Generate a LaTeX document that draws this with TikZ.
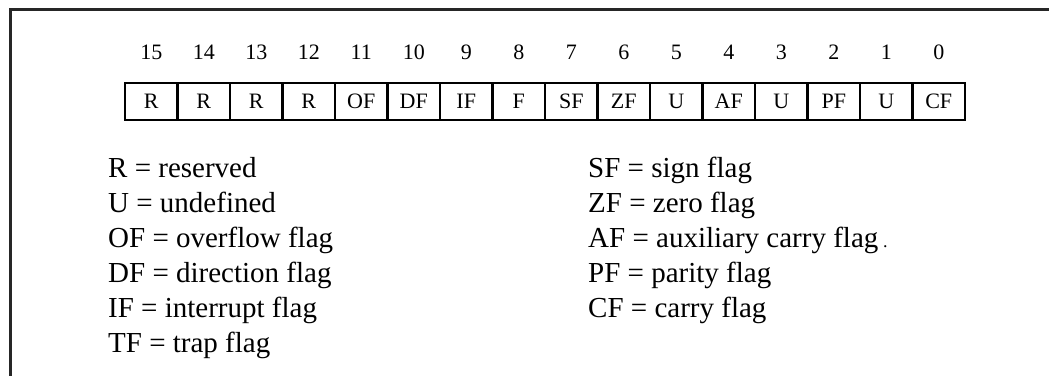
\documentclass[tikz,border=0pt]{standalone}
\usepackage{fontspec}
\setmainfont{Liberation Serif}
\begin{document}
\begin{tikzpicture}[x=1pt,y=-1pt,
  bitcell/.style={draw,line width=2.5pt,minimum width=52.5pt,minimum height=37pt,
    inner sep=0pt,outer sep=0pt,font=\fontsize{22}{22}\selectfont},
  bitnum/.style={font=\fontsize{22}{22}\selectfont},
  key/.style={anchor=base west,inner sep=0pt,font=\fontsize{29}{29}\selectfont}]

\useasboundingbox (0,0) rectangle (1049,376);

% Frame (only top and left edges show)
\draw[line width=3pt,black!85] (1049,9) -- (10,9) -- (10,376);

% Flag register cells with bit numbers above
\foreach \lbl [count=\i from 0] in {R,R,R,R,OF,DF,IF,F,SF,ZF,U,AF,U,PF,U,CF} {
  \pgfmathtruncatemacro\bit{15-\i}
  \node[bitcell] (c\bit) at (151.25+52.5*\i,101.5) {\lbl};
  \node[bitnum] (n\bit) at (151.25+52.5*\i,52) {\bit};
}

% Legend, left column
\node[key] (kR) at (108,177) {R = reserved};
\node[key] (kU) at (108,212) {U = undefined};
\node[key] (kOF) at (108,247) {OF = overflow flag};
\node[key] (kDF) at (108,282) {DF = direction flag};
\node[key] (kIF) at (108,317) {IF = interrupt flag};
\node[key] (kTF) at (108,352) {TF = trap flag};

% Legend, right column
\node[key] (kSF) at (588,177) {SF = sign flag};
\node[key] (kZF) at (588,212) {ZF = zero flag};
\node[key] (kAF) at (588,247) {AF = auxiliary carry flag\,{\fontsize{18}{18}\selectfont.}};
\node[key] (kPF) at (588,282) {PF = parity flag};
\node[key] (kCF) at (588,317) {CF = carry flag};

\end{tikzpicture}
\end{document}
